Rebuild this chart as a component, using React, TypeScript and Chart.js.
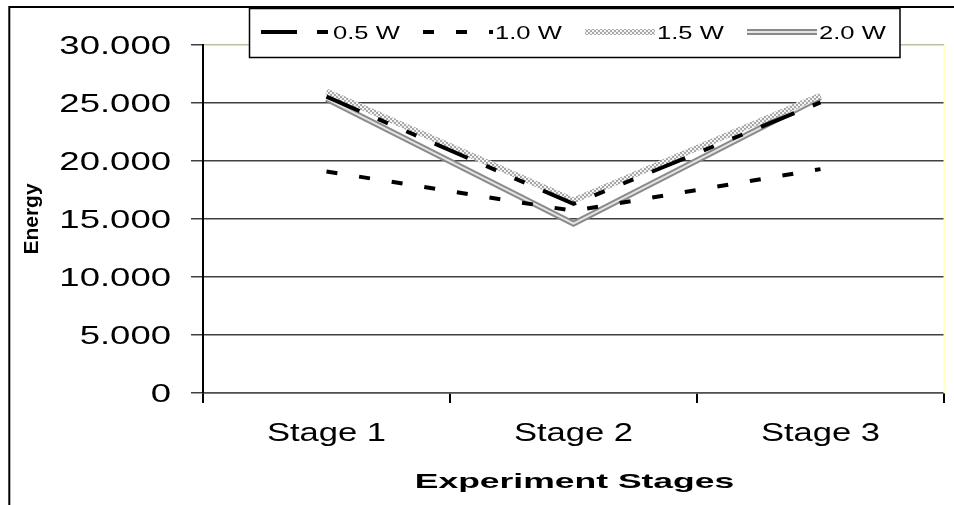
import React, { useEffect, useRef } from "react";
import { Chart, registerables } from "chart.js";

Chart.register(...registerables);

const categories = ["Stage 1", "Stage 2", "Stage 3"];
const seriesNames = ["0.5 W", "1.0 W", "1.5 W", "2.0 W"];
const energy05 = [25550, 16300, 25050];
const energy10 = [19100, 15700, 19300];
const energy15 = [26000, 16600, 25650];
const energy20 = [25350, 14600, 25500];
const yMin = 0;
const yMax = 30000;
const yStep = 5000;
const xTitle = "Experiment Stages";
const yTitle = "Energy";

const FONT = "'Liberation Sans', Arial, sans-serif";

function fmt(v: number): string {
  return String(Math.round(v)).replace(/\B(?=(\d{3})+(?!\d))/g, ".");
}

function drawText(
  ctx: CanvasRenderingContext2D,
  text: string,
  x: number,
  y: number,
  font: string,
  scaleX: number,
  align: CanvasTextAlign,
  rotate = 0
) {
  ctx.save();
  ctx.translate(x, y);
  if (rotate) ctx.rotate(rotate);
  ctx.scale(scaleX, 1);
  ctx.font = font;
  ctx.fillStyle = "#000";
  ctx.textAlign = align;
  ctx.textBaseline = "alphabetic";
  ctx.fillText(text, 0, 0);
  ctx.restore();
}

const decorPlugin = {
  id: "decor",
  afterDraw(chart: any) {
    const { ctx, chartArea, scales } = chart;
    const xs = scales.x;
    const ys = scales.y;
    ctx.save();
    ctx.strokeStyle = "#000";
    ctx.lineWidth = 2;
    ctx.beginPath();
    ctx.moveTo(9.3, 505);
    ctx.lineTo(9.3, 7);
    ctx.lineTo(954, 7);
    ctx.stroke();
    ctx.strokeStyle = "#ffffc0";
    ctx.lineWidth = 2;
    ctx.beginPath();
    ctx.moveTo(chartArea.right + 0.5, chartArea.top);
    ctx.lineTo(chartArea.right + 0.5, chartArea.bottom);
    ctx.stroke();
    ctx.restore();

    ys.ticks.forEach((t: any) => {
      const py = ys.getPixelForValue(t.value);
      drawText(ctx, fmt(t.value), 171, py + 9, `25px ${FONT}`, 1.46, "right");
    });
    categories.forEach((c, i) => {
      const px = xs.getPixelForValue(i);
      drawText(ctx, c, px, 441, `26px ${FONT}`, 1.33, "center");
    });
    drawText(ctx, xTitle, (chartArea.left + chartArea.right) / 2 + 1, 488, `bold 21px ${FONT}`, 1.69, "center");
    drawText(ctx, yTitle, 38, (chartArea.top + chartArea.bottom) / 2, `bold 21px ${FONT}`, 1.0, "center", -Math.PI / 2);

    ctx.save();
    ctx.fillStyle = "#fff";
    ctx.fillRect(249, 8, 651, 49);
    ctx.strokeStyle = "#000";
    ctx.lineWidth = 1.5;
    ctx.strokeRect(249.5, 8.5, 650.5, 49);
    ctx.restore();
    const dsets = chart.data.datasets;
    seriesNames.forEach((name, i) => {
      const x0 = 261 + i * 162;
      const x1 = x0 + 70;
      const yy = 32;
      dsets
        .filter((d: any) => d.legendGroup === i)
        .sort((a: any, b: any) => b.order - a.order)
        .forEach((d: any) => {
          ctx.save();
          ctx.strokeStyle = d.borderColor;
          ctx.lineWidth = d.borderWidth;
          ctx.setLineDash(d.borderDash || []);
          ctx.lineCap = "butt";
          ctx.beginPath();
          ctx.moveTo(x0, yy);
          ctx.lineTo(x1, yy);
          ctx.stroke();
          ctx.restore();
        });
      drawText(ctx, name, x1 + 2, 38.5, `18px ${FONT}`, 1.42, "left");
    });
  },
};

export default function App() {
  const ref = useRef<HTMLCanvasElement | null>(null);
  useEffect(() => {
    document.body.style.margin = "0";
    document.body.style.overflow = "hidden";
    const canvas = ref.current;
    if (!canvas) return;

    const pc = document.createElement("canvas");
    pc.width = 4;
    pc.height = 4;
    const pctx = pc.getContext("2d")!;
    pctx.fillStyle = "#f4f4f4";
    pctx.fillRect(0, 0, 4, 4);
    pctx.fillStyle = "#a8a8a8";
    pctx.fillRect(0, 0, 2, 2);
    pctx.fillRect(2, 2, 2, 2);
    const pattern = canvas.getContext("2d")!.createPattern(pc, "repeat");

    const chart = new Chart(canvas, {
      type: "line",
      data: {
        labels: categories,
        datasets: [
          {
            label: seriesNames[0],
            data: energy05,
            borderColor: "#000",
            borderWidth: 4,
            borderDash: [36, 20, 11, 20, 11, 20],
            order: 0,
            legendGroup: 0,
          } as any,
          {
            label: seriesNames[1],
            data: energy10,
            borderColor: "#000",
            borderWidth: 4,
            borderDash: [11, 22],
            order: 1,
            legendGroup: 1,
          } as any,
          {
            label: seriesNames[2],
            data: energy15,
            borderColor: pattern,
            borderWidth: 6,
            order: 2,
            legendGroup: 2,
          } as any,
          {
            label: seriesNames[3],
            data: energy20,
            borderColor: "#e4e4e4",
            borderWidth: 2,
            order: 3,
            legendGroup: 3,
          } as any,
          {
            label: seriesNames[3],
            data: energy20,
            borderColor: "#8a8a8a",
            borderWidth: 6,
            order: 4,
            legendGroup: 3,
          } as any,
        ],
      },
      options: {
        animation: false,
        responsive: false,
        devicePixelRatio: 1,
        layout: { padding: { top: 45, right: 10, left: 0, bottom: 0 } },
        elements: {
          point: { radius: 0, hoverRadius: 0 },
          line: { tension: 0, borderCapStyle: "butt", borderJoinStyle: "miter", fill: false },
        },
        plugins: {
          legend: { display: false },
          tooltip: { enabled: false },
          title: { display: false },
        },
        scales: {
          x: {
            type: "category",
            offset: true,
            afterFit: (s: any) => {
              s.height = 112;
            },
            grid: {
              display: true,
              drawOnChartArea: false,
              drawTicks: true,
              tickLength: 10,
              color: "#000",
              lineWidth: 2,
              offset: true,
            },
            border: { display: true, color: "#505050", width: 1.5 },
            ticks: { display: false },
          },
          y: {
            min: yMin,
            max: yMax,
            afterFit: (s: any) => {
              s.width = 203;
            },
            ticks: { display: false, stepSize: yStep },
            grid: {
              color: (c: any) => (c.tick && c.tick.value === yMax ? "#c0c0a0" : "#404040"),
              tickColor: "#404040",
              lineWidth: 1.5,
              tickLength: 12,
              drawTicks: true,
            },
            border: { display: true, color: "#000", width: 2 },
          },
        },
      },
      plugins: [decorPlugin],
    });
    return () => chart.destroy();
  }, []);

  return (
    <div style={{ width: 954, height: 505, position: "relative" }}>
      <canvas ref={ref} width={954} height={505} style={{ width: 954, height: 505, display: "block" }} />
    </div>
  );
}
